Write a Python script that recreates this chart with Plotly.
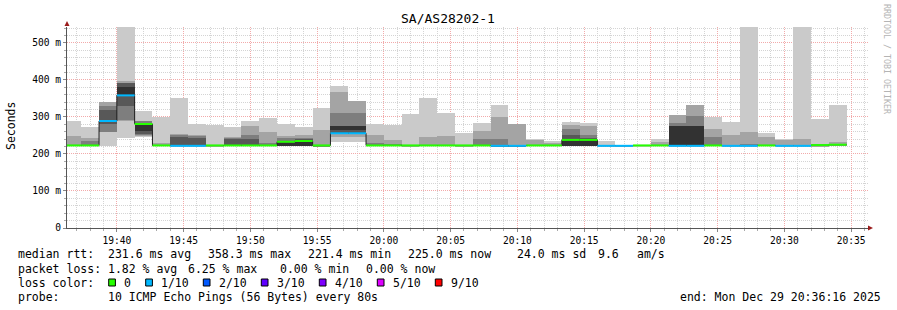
import plotly.graph_objects as go
import pandas as pd

# ---------------- data ----------------
START = "2025-12-29 19:36:00"      # start of first 80 s interval
STEP_S = 80
X_START = "2025-12-29 19:36:16"
X_END = "2025-12-29 20:36:16"

# smoke layers (ms): L1 outermost / lightest ... L5 innermost / darkest
L1_lo = [221, 221, 222, 242, 245, 221, 221, 221, 221, 221,
         221, 221, 221, 221, 221, 231, 231, 221, 221, 221,
         221, 221, 221, 221, 220, None, 221, 221, 221, 221,
         221, 221, 221, 221, None, None, 221, 221, 221, 221,
         221, 221, 221, 221]
L1_hi = [289, 274, 341, 560, 316, 301, 352, 281, 278, 272,
         289, 298, 281, 272, 323, 384, 343, 281, 278, 307,
         352, 312, 256, 283, 333, None, 241, 236, 287, 283,
         236, 224, 223, 240, None, None, 301, 287, 560, 258,
         241, 560, 295, 333]
L2_lo = [221, 221, 259, 290, 248, 221, 221, 221, 221, 221,
         221, 221, 221, 221, 221, 247, 247, 221, 221, 221,
         221, 221, 221, 221, 220, 220, 221, 221, 221, 221,
         None, None, None, 221, 221, 221, 221, 221, 221, 221,
         221, 221, 221, 221]
L2_hi = [249, 244, 341, 397, 289, 230, 254, 251, 224, 245,
         276, 260, 249, 251, 265, 368, 343, 251, 238, 224,
         245, 249, 224, 262, 301, 281, 238, 229, 279, 276,
         None, None, None, 232, 305, 333, 268, 251, 260, 245,
         239, 241, 224, 231]
L3_lo = [None, 221, 259, 292, 251, None, 221, 221, None, 221,
         221, 221, 221, 221, 221, 253, 253, 221, 221, None,
         None, None, None, 221, 220, 220, None, None, 221, 221,
         None, None, None, None, 222, 222, 221, None, 221, None,
         None, None, None, None]
L3_hi = [None, 236, 330, 391, 289, None, 251, 248, None, 243,
         251, 229, 242, 244, 224, 312, 312, 229, 228, None,
         None, None, None, 241, 241, 224, None, None, 268, 251,
         None, None, None, None, 285, 303, 247, None, 228, None,
         None, None, None, None]
L4_lo = [None, None, 280, 330, 255, None, 221, 221, None, 221,
         221, None, 221, 221, None, 256, 256, None, None, None,
         None, None, None, None, None, None, None, None, 222, 222,
         None, None, None, None, None, None, None, None, None, None,
         None, None, None, None]
L4_hi = [None, None, 318, 391, 285, None, 245, 244, None, 240,
         240, None, 236, 240, None, 276, 276, None, None, None,
         None, None, None, None, None, None, None, None, 250, 244,
         None, None, None, None, None, None, None, None, None, None,
         None, None, None, None]
L5_lo = [None, None, 286, 358, 262, None, None, None, None, None,
         None, None, 222, 222, None, 265, 265, None, None, None,
         None, None, None, None, None, None, None, None, 222, 222,
         None, None, None, None, 222, 222, None, None, None, None,
         None, None, None, None]
L5_hi = [None, None, 292, 382, 278, None, None, None, None, None,
         None, None, 230, 232, None, 276, 276, None, None, None,
         None, None, None, None, None, None, None, None, 236, 236,
         None, None, None, None, 276, 276, None, None, None, None,
         None, None, None, None]

median = [223, 223, 289, 358.3, 281, 223, 222, 222, 223, 223,
          223, 223, 233, 235, 223, 256, 256, 223, 223, 223,
          223, 223, 223, 223, 222, 222, 223, 223, 238, 238,
          222, 222, 223, 223, 222, 222, 223, 222, 222, 223,
          222, 222, 224, 225]
loss = [0, 0, 1, 1, 0, 0, 1, 1, 0, 0,
        0, 0, 0, 0, 0, 1, 1, 0, 0, 0,
        0, 0, 0, 0, 1, 1, 0, 0, 0, 0,
        1, 1, 0, 0, 1, 1, 0, 1, 1, 0,
        1, 1, 0, 0]

LOSS_LABELS = ["0", "1/10", "2/10", "3/10", "4/10", "5/10", "9/10"]
LOSS_COLORS = ["#26ff00", "#00b8ff", "#0059ff", "#5e00ff", "#7e00ff", "#dd00ff", "#ff0000"]
SMOKE_COLORS = ["#cacaca", "#a4a4a4", "#7e7e7e", "#585858", "#323232"]

Y_TICKS = [0, 100, 200, 300, 400, 500]
Y_TICKTEXT = ["0", "100 m", "200 m", "300 m", "400 m", "500 m"]

TITLE = "SA/AS28202-1"
STATS = [
    ("median rtt:", ["231.6 ms avg", "358.3 ms max", "221.4 ms min", "225.0 ms now", "24.0 ms sd", "9.6", "am/s"]),
    ("packet loss:", ["1.82 % avg", "6.25 % max", "0.00 % min", "0.00 % now"]),
]
PROBE = "10 ICMP Echo Pings (56 Bytes) every 80s"
END_TEXT = "end: Mon Dec 29 20:36:16 2025"

# ---------------- geometry helpers ----------------
W, H = 897, 310
PL, PR, PT, PB = 67, 868, 27, 228
FONT = "DejaVu Sans Mono"


def pxx(x):
    return (x - PL) / (PR - PL)


def pxy(y):
    return (PB - y) / (PB - PT)


n = len(median)
starts = pd.date_range(START, periods=n, freq=f"{STEP_S}s")
centers = starts + pd.Timedelta(seconds=STEP_S / 2)
edges = list(starts) + [starts[-1] + pd.Timedelta(seconds=STEP_S)]

fig = go.Figure()

layers = [(L1_lo, L1_hi), (L2_lo, L2_hi), (L3_lo, L3_hi), (L4_lo, L4_hi), (L5_lo, L5_hi)]
for (lo, hi), col in zip(layers, SMOKE_COLORS):
    ys = [None if (a is None or b is None) else b - a for a, b in zip(lo, hi)]
    fig.add_trace(go.Bar(x=centers, y=ys, base=lo, width=STEP_S * 1000,
                         marker=dict(color=col, line=dict(width=0)),
                         showlegend=False, hoverinfo="skip"))

# black median step line
fig.add_trace(go.Scatter(x=edges, y=median + [median[-1]], mode="lines",
                         line=dict(color="#202020", width=1, shape="hv"),
                         showlegend=False, hoverinfo="skip"))

# loss-coloured median segments
for lvl in sorted(set(loss)):
    xs, ys = [], []
    for i in range(n):
        if loss[i] == lvl:
            xs += [edges[i], edges[i + 1], None]
            ys += [median[i], median[i], None]
    fig.add_trace(go.Scatter(x=xs, y=ys, mode="lines",
                             line=dict(color=LOSS_COLORS[lvl], width=2),
                             showlegend=False, hoverinfo="skip"))

ann = []
shapes = []


def text(x, y, s, size=11.5, anchor="left", color="#000", angle=0):
    ann.append(dict(x=pxx(x), y=pxy(y), xref="paper", yref="paper", text=s,
                    showarrow=False, xanchor=anchor, yanchor="middle",
                    font=dict(family=FONT, size=size, color=color),
                    borderpad=0, textangle=angle))


text(448, 19, TITLE, size=13, anchor="center")
text(11, 126, "Seconds", size=11.5, anchor="center", angle=-90)
text(887, 59, "RRDTOOL / TOBI OETIKER", size=8.3, anchor="center", color="#b4b4b4", angle=90)

LINE_Y = [254.3, 268.5, 282.7, 296.9]
POS1 = [107.3, 207.3, 307.3, 407.3, 516, 597, 636]
POS2 = [107.3, 186.7, 279.3, 365]
for (label, items), pos, yy in zip(STATS, [POS1, POS2], LINE_Y[:2]):
    text(16.7, yy, label)
    for s, p in zip(items, pos):
        text(p, yy, s)

text(16.7, LINE_Y[2], "loss color:")
BOX_X = [108.7, 145.7, 203.3, 261.3, 319.3, 377.3, 435.3]
for bx, lab, col in zip(BOX_X, LOSS_LABELS, LOSS_COLORS):
    shapes.append(dict(type="rect", xref="paper", yref="paper",
                       x0=pxx(bx), x1=pxx(bx + 6.7), y0=pxy(LINE_Y[2] + 3.3), y1=pxy(LINE_Y[2] - 3.7),
                       fillcolor=col, line=dict(color="#000", width=1)))
    text(bx + 14.6, LINE_Y[2], lab)

text(16.7, LINE_Y[3], "probe:")
text(107.3, LINE_Y[3], PROBE)
text(678.7, LINE_Y[3], END_TEXT)

# axis arrows
ARROW = "#9b1c1c"
shapes.append(dict(type="path", xref="paper", yref="paper", xsizemode="pixel", ysizemode="pixel",
                   xanchor=0, yanchor=1, path="M-2.5,1 L2.5,1 L0,6 Z",
                   fillcolor=ARROW, line=dict(color=ARROW, width=0)))
shapes.append(dict(type="path", xref="paper", yref="paper", xsizemode="pixel", ysizemode="pixel",
                   xanchor=1, yanchor=0, path="M0,-2.5 L0,2.5 L5,0 Z",
                   fillcolor=ARROW, line=dict(color=ARROW, width=0)))

MINOR_GRID = "#d4d4d4"
MAJOR_GRID = "#f2aaaa"
DASH = "1px,1px"

fig.update_layout(
    width=W, height=H,
    margin=dict(l=PL, r=W - PR, t=PT, b=H - PB),
    paper_bgcolor="white", plot_bgcolor="white",
    barmode="overlay", bargap=0, showlegend=False,
    annotations=ann, shapes=shapes,
    xaxis=dict(type="date", range=[X_START, X_END], tickformat="%H:%M",
               dtick=300000, tick0="2025-12-29 19:00:00",
               showgrid=True, gridcolor=MAJOR_GRID, griddash=DASH, gridwidth=1,
               ticks="outside", ticklen=3, tickcolor="#888",
               showline=True, linecolor="#555", linewidth=1,
               tickfont=dict(family=FONT, size=9.6, color="#000"),
               minor=dict(dtick=60000, tick0="2025-12-29 19:00:00", showgrid=True,
                          gridcolor=MINOR_GRID, griddash=DASH, ticks="outside",
                          ticklen=2, tickcolor="#aaa"),
               zeroline=False, fixedrange=True),
    yaxis=dict(range=[0, 543], tickvals=Y_TICKS, ticktext=Y_TICKTEXT,
               showgrid=True, gridcolor=MAJOR_GRID, griddash=DASH, gridwidth=1,
               ticks="outside", ticklen=3, tickcolor="#888",
               showline=True, linecolor="#555", linewidth=1,
               tickfont=dict(family=FONT, size=9.6, color="#000"),
               minor=dict(dtick=20, showgrid=True, gridcolor=MINOR_GRID, griddash=DASH,
                          ticks="outside", ticklen=2, tickcolor="#aaa"),
               zeroline=False, fixedrange=True),
)

fig.write_html("out.html")
